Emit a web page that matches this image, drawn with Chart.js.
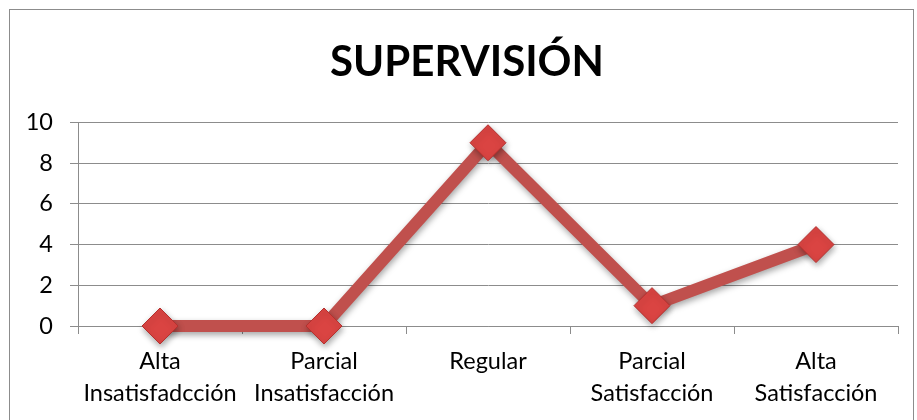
<!DOCTYPE html>
<html>
<head>
<meta charset="utf-8">
<style>
  html, body { margin: 0; padding: 0; background: #fff; }
  #wrap { width: 917px; height: 420px; }
</style>
<script src="https://cdn.jsdelivr.net/npm/chart.js@4"></script>
</head>
<body>
<div id="wrap"><canvas id="myChart" width="917" height="420"></canvas></div>
<script>
const categories = [
  ['Alta', 'Insatisfadcción'],
  ['Parcial', 'Insatisfacción'],
  'Regular',
  ['Parcial', 'Satisfacción'],
  ['Alta', 'Satisfacción']
];
const values = [0, 0, 9, 1, 4];
const yTicks = [0, 2, 4, 6, 8, 10];

// marco exterior del gráfico
const frame = {
  id: 'frame',
  beforeDraw(chart) {
    const c = chart.ctx;
    c.save();
    c.strokeStyle = '#8c8c8c';
    c.lineWidth = 1;
    c.strokeRect(9.5, 9.5, 904, 420);
    c.restore();
  }
};

// el título va un poco a la derecha del centro del lienzo
const shiftTitle = {
  id: 'shiftTitle',
  afterLayout(chart) {
    const t = chart.titleBlock;
    if (t) { t.left += 18; t.right += 18; }
  }
};

// sombra suave bajo la línea y los marcadores
const shadow = {
  id: 'shadow',
  beforeDatasetsDraw(chart) {
    const c = chart.ctx;
    c.save();
    c.shadowColor = 'rgba(0,0,0,0.35)';
    c.shadowBlur = 6;
    c.shadowOffsetX = 1;
    c.shadowOffsetY = 3;
  },
  afterDatasetsDraw(chart) {
    chart.ctx.restore();
  }
};

const ctx = document.getElementById('myChart').getContext('2d');
new Chart(ctx, {
  type: 'line',
  data: {
    labels: categories,
    datasets: [{
      data: values,
      clip: false,
      borderColor: '#C0504D',
      borderWidth: 12,
      tension: 0,
      pointStyle: 'rectRot',
      pointRadius: 18,
      pointHoverRadius: 18,
      pointBackgroundColor: '#DA4442',
      pointBorderColor: '#B5302E',
      pointBorderWidth: 1
    }]
  },
  options: {
    responsive: false,
    animation: false,
    events: [],
    layout: { padding: { left: 0, right: 19, top: 0, bottom: 0 } },
    plugins: {
      legend: { display: false },
      tooltip: { enabled: false },
      title: {
        display: true,
        text: 'SUPERVISIÓN',
        color: '#000',
        font: { family: 'Lato', size: 42, weight: 'bold', lineHeight: 1.2 },
        padding: { top: 37, bottom: 35 }
      }
    },
    scales: {
      x: {
        offset: true,
        grid: {
          offset: true,
          drawOnChartArea: false,
          color: '#8c8c8c',
          tickLength: 8
        },
        border: { color: '#8c8c8c', width: 1 },
        ticks: {
          color: '#000',
          padding: 11,
          maxRotation: 0,
          font: { family: 'Lato', size: 23.5, lineHeight: 1.36 }
        },
        afterFit(scale) { scale.height = 94; }
      },
      y: {
        min: 0,
        max: 10,
        afterBuildTicks(scale) { scale.ticks = yTicks.map(v => ({ value: v })); },
        grid: { color: '#8c8c8c', tickLength: 8 },
        border: { color: '#8c8c8c', width: 1 },
        ticks: {
          color: '#000',
          padding: 17,
          font: { family: 'Lato', size: 23.5 }
        },
        afterFit(scale) { scale.width = 78; }
      }
    }
  },
  plugins: [frame, shiftTitle, shadow]
});
</script>
</body>
</html>
